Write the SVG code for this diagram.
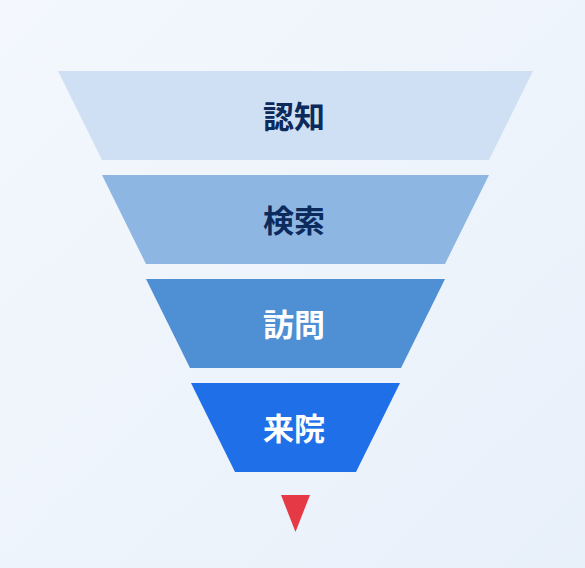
<svg xmlns="http://www.w3.org/2000/svg" width="585" height="568" viewBox="0 0 585 568">
<defs>
<linearGradient id="bg" x1="0" y1="0" x2="1" y2="1">
<stop offset="0" stop-color="#f4f8fd"/>
<stop offset="1" stop-color="#e8f0fa"/>
</linearGradient>
<style>
.lbl{font-family:"Noto Sans CJK JP","Noto Sans CJK SC",sans-serif;font-weight:700;font-size:31px;text-anchor:middle;dominant-baseline:central}
.dark{fill:#0c2b5c}
.light{fill:#ffffff}
</style>
</defs>
<rect width="585" height="568" fill="url(#bg)"/>
<g id="node-awareness">
<polygon points="58,71 533,71 489,160 102,160" fill="#cfe0f5"/>
<text class="lbl dark" x="294" y="114">認知</text>
</g>
<g id="node-search">
<polygon points="102,175 489,175 445,264 146,264" fill="#8db6e3"/>
<text class="lbl dark" x="294" y="218">検索</text>
</g>
<g id="node-visit">
<polygon points="146,279 445,279 401,368 190,368" fill="#4f8fd3"/>
<text class="lbl light" x="294" y="322">訪問</text>
</g>
<g id="node-arrival">
<polygon points="191,383 400,383 356,472 235,472" fill="#1f6fe8"/>
<text class="lbl light" x="294" y="426">来院</text>
</g>
<g id="connectors">
<polygon points="281,495 310,495 295.5,532" fill="#e63946"/>
</g>
</svg>
